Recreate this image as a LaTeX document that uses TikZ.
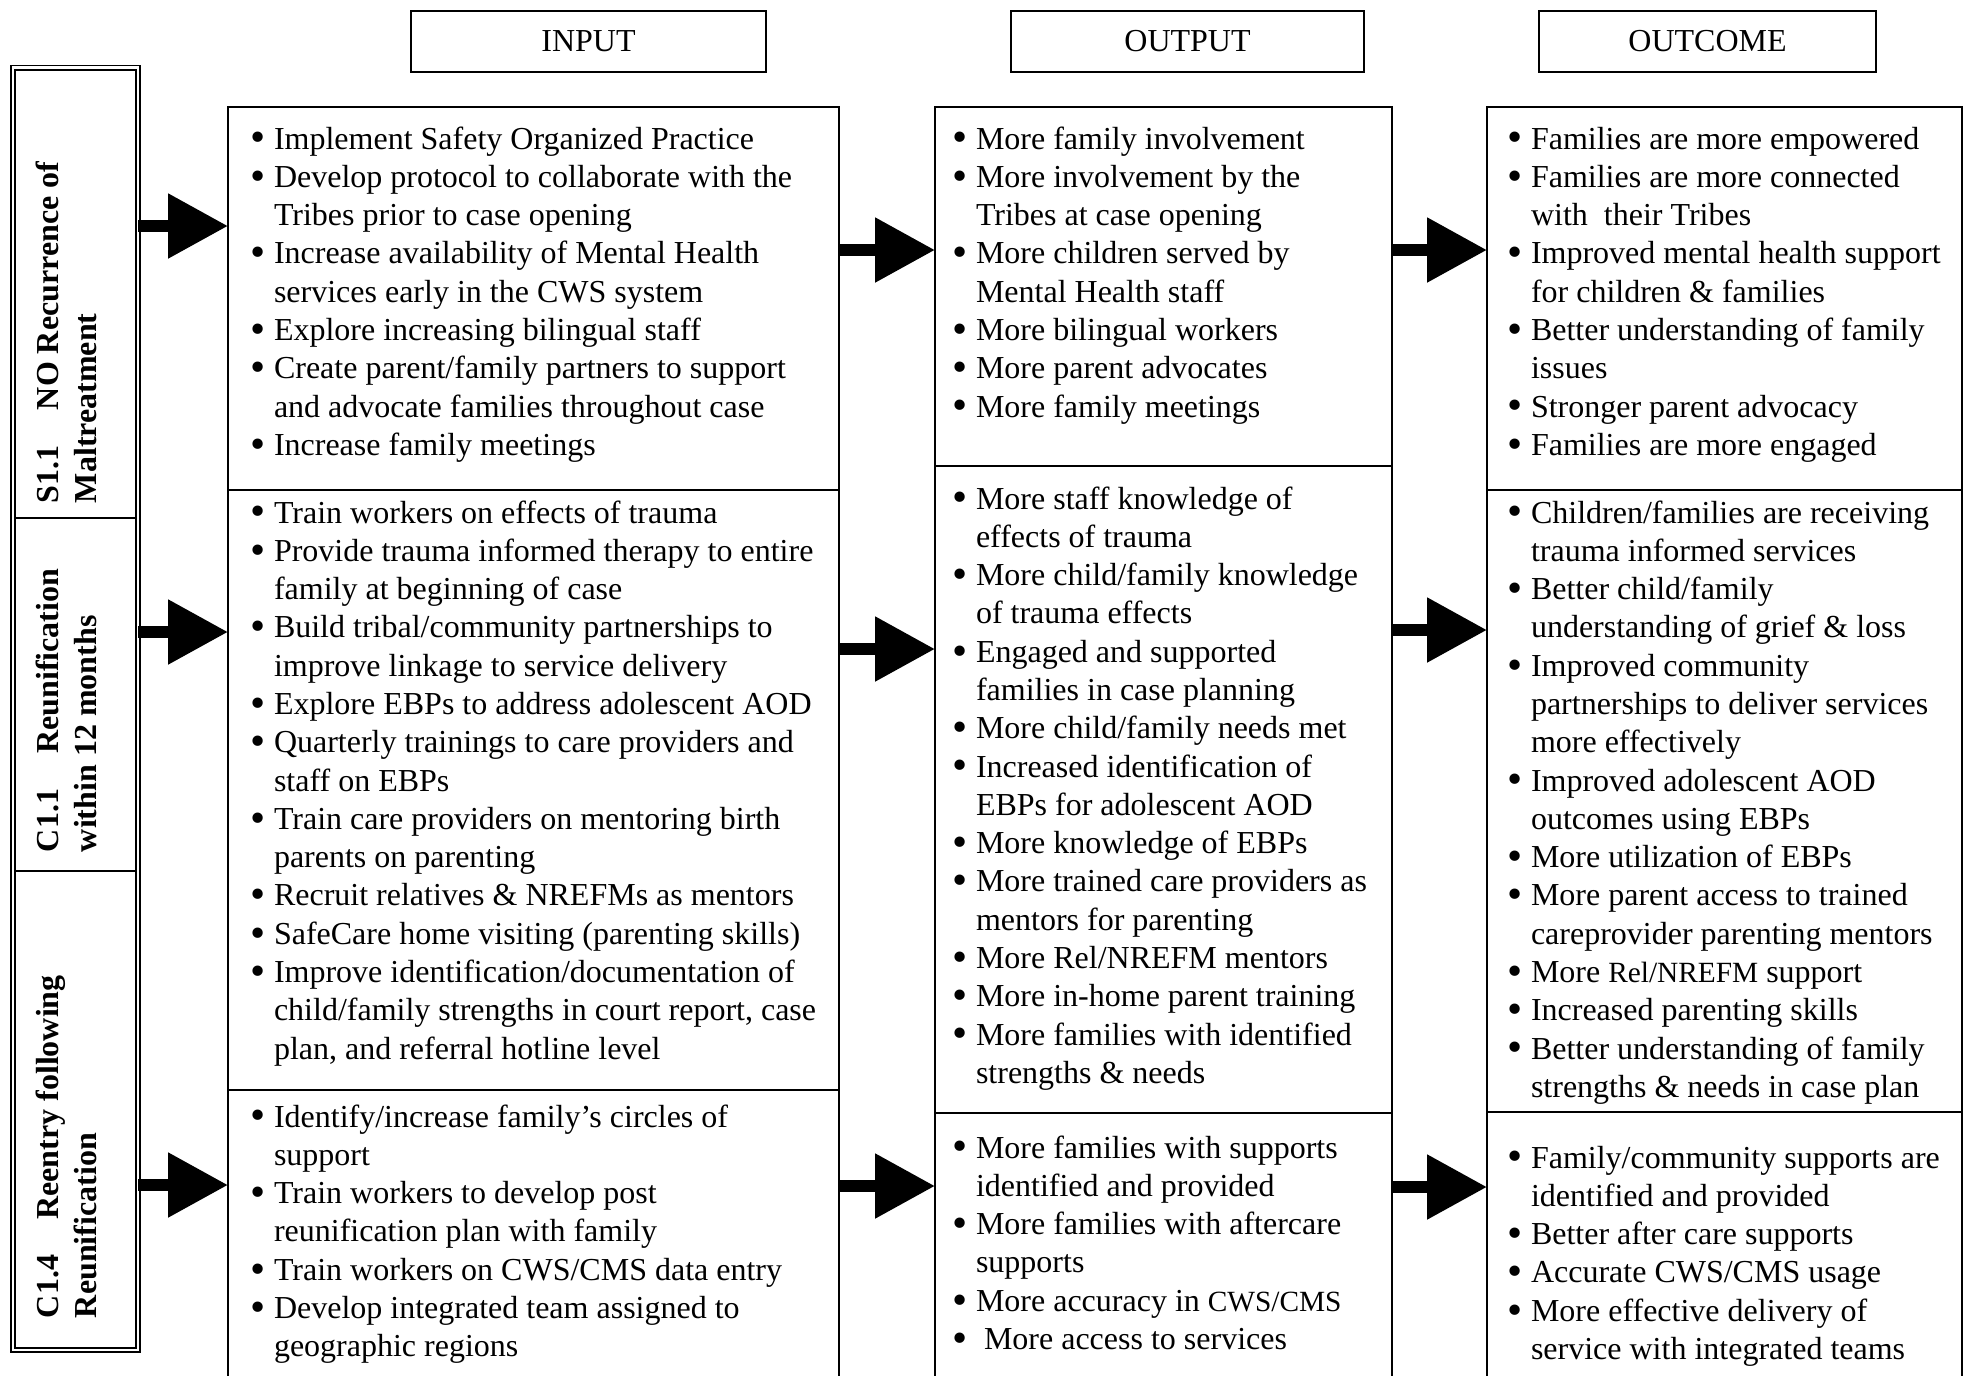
\documentclass[tikz,border=0pt]{standalone}
\usepackage{fontspec}
\usepackage{graphicx}
\setmainfont{Liberation Serif}
\usetikzlibrary{arrows.meta,fit}
\newcommand{\bi}{\makebox[9pt][l]{\raisebox{-0.09em}{\scalebox{1.35}{\textbullet}}}}
\newcommand{\ci}{\hspace*{9pt}}
\newcommand{\lst}[1]{\begin{tabular}[t]{@{}l@{}}#1\end{tabular}}
\newcommand{\smf}[1]{{\fontsize{11}{14.36}\selectfont #1}}
\begin{document}
\begin{tikzpicture}[x=0.375pt,y=-0.375pt,
  every node/.style={inner sep=0pt,outer sep=0pt},
  txt/.style={font=\fontsize{12}{14.36}\selectfont,anchor=base west},
  lab/.style={font=\bfseries\fontsize{12}{14.36}\selectfont,rotate=90,anchor=base west},
  hdr/.style={draw,line width=0.45pt,font=\fontsize{12}{14.36}\selectfont,minimum height=22.9pt},
  cell/.style={draw,line width=0.6pt},
  labcell/.style={draw,line width=0.5pt},
  barrow/.style={line width=4.5pt,-{Triangle[length=22.5pt 0 0,width=23.25pt 0 0]}}]
\useasboundingbox (0,0) rectangle (1967,1375);
% headers
\node[hdr,minimum width=133.1pt] (hin) at (588.5,41.5) {INPUT};
\node[hdr,minimum width=132.4pt] (hout) at (1187.5,41.5) {OUTPUT};
\node[hdr,minimum width=126.4pt] (hoc) at (1707.5,41.5) {OUTCOME};
% label box
\node[fit={(13,67.5) (138,1350)},draw,line width=0.5pt,double,double distance=1pt] (labbox) {};
\node[labcell,fit={(15,70) (136,518)}] (lab1) {};
\node[labcell,fit={(15,518) (136,871)}] (lab2) {};
\node[labcell,fit={(15,871) (136,1348)}] (lab3) {};
\node[lab] (l1) at (58,503) {\lst{S1.1\hspace{1.1em}NO Recurrence of\\Maltreatment}};
\node[lab] (l2) at (58,852) {\lst{C1.1\hspace{1.1em}Reunification\\within 12 months}};
\node[lab] (l3) at (58,1318) {\lst{C1.4\hspace{1.1em}Reentry following\\Reunification}};
% cells
\node[cell,fit={(228,107) (839,490)}] (in1) {};
\node[cell,fit={(228,490) (839,1090)}] (in2) {};
\node[cell,fit={(228,1090) (839,1420)}] (in3) {};
\node[cell,fit={(935,107) (1392,466)}] (out1) {};
\node[cell,fit={(935,466) (1392,1113)}] (out2) {};
\node[cell,fit={(935,1113) (1392,1420)}] (out3) {};
\node[cell,fit={(1487,107) (1962,490)}] (oc1) {};
\node[cell,fit={(1487,490) (1962,1112)}] (oc2) {};
\node[cell,fit={(1487,1112) (1962,1420)}] (oc3) {};
% arrow levels
\coordinate (ya1) at (0,226);
\coordinate (ya2) at (0,632);
\coordinate (ya3) at (0,1185);
\coordinate (yb1) at (0,250);
\coordinate (yb2) at (0,649);
\coordinate (yb3) at (0,1186);
\coordinate (yc1) at (0,250);
\coordinate (yc2) at (0,630);
\coordinate (yc3) at (0,1187);
\draw[barrow] (labbox.east |- ya1) -- (in1.west |- ya1);
\draw[barrow] (labbox.east |- ya2) -- (in2.west |- ya2);
\draw[barrow] (labbox.east |- ya3) -- (in3.west |- ya3);
\draw[barrow] (in1.east |- yb1) -- (out1.west |- yb1);
\draw[barrow] (in2.east |- yb2) -- (out2.west |- yb2);
\draw[barrow] (in3.east |- yb3) -- (out3.west |- yb3);
\draw[barrow] (out1.east |- yc1) -- (oc1.west |- yc1);
\draw[barrow] (out2.east |- yc2) -- (oc2.west |- yc2);
\draw[barrow] (out3.east |- yc3) -- (oc3.west |- yc3);
% INPUT texts
\node[txt] (tin1) at (250,149) {\lst{%
\bi Implement Safety Organized Practice\\
\bi Develop protocol to collaborate with the\\
\ci Tribes prior to case opening\\
\bi Increase availability of Mental Health\\
\ci services early in the CWS system\\
\bi Explore increasing bilingual staff\\
\bi Create parent/family partners to support\\
\ci and advocate families throughout case\\
\bi Increase family meetings}};
\node[txt] (tin2) at (250,523) {\lst{%
\bi Train workers on effects of trauma\\
\bi Provide trauma informed therapy to entire\\
\ci family at beginning of case\\
\bi Build tribal/community partnerships to\\
\ci improve linkage to service delivery\\
\bi Explore EBPs to address adolescent AOD\\
\bi Quarterly trainings to care providers and\\
\ci staff on EBPs\\
\bi Train care providers on mentoring birth\\
\ci parents on parenting\\
\bi Recruit relatives \& NREFMs as mentors\\
\bi SafeCare home visiting (parenting skills)\\
\bi Improve identification/documentation of\\
\ci child/family strengths in court report, case\\
\ci plan, and referral hotline level}};
\node[txt] (tin3) at (250,1127) {\lst{%
\bi Identify/increase family’s circles of\\
\ci support\\
\bi Train workers to develop post\\
\ci reunification plan with family\\
\bi Train workers on CWS/CMS data entry\\
\bi Develop integrated team assigned to\\
\ci geographic regions}};
% OUTPUT texts
\node[txt] (tout1) at (952,149) {\lst{%
\bi More family involvement\\
\bi More involvement by the\\
\ci Tribes at case opening\\
\bi More children served by\\
\ci Mental Health staff\\
\bi More bilingual workers\\
\bi More parent advocates\\
\bi More family meetings}};
\node[txt] (tout2) at (952,509) {\lst{%
\bi More staff knowledge of\\
\ci effects of trauma\\
\bi More child/family knowledge\\
\ci of trauma effects\\
\bi Engaged and supported\\
\ci families in case planning\\
\bi More child/family needs met\\
\bi Increased identification of\\
\ci EBPs for adolescent AOD\\
\bi More knowledge of EBPs\\
\bi More trained care providers as\\
\ci mentors for parenting\\
\bi More Rel/NREFM mentors\\
\bi More in-home parent training\\
\bi More families with identified\\
\ci strengths \& needs}};
\node[txt] (tout3) at (952,1158) {\lst{%
\bi More families with supports\\
\ci identified and provided\\
\bi More families with aftercare\\
\ci supports\\
\bi More accuracy in \smf{CWS/CMS}\\
\bi\hspace{3pt}More access to services}};
% OUTCOME texts
\node[txt] (toc1) at (1507,149) {\lst{%
\bi Families are more empowered\\
\bi Families are more connected\\
\ci with\ \ their Tribes\\
\bi Improved mental health support\\
\ci for children \& families\\
\bi Better understanding of family\\
\ci issues\\
\bi Stronger parent advocacy\\
\bi Families are more engaged}};
\node[txt] (toc2) at (1507,523) {\lst{%
\bi Children/families are receiving\\
\ci trauma informed services\\
\bi Better child/family\\
\ci understanding of grief \& loss\\
\bi Improved community\\
\ci partnerships to deliver services\\
\ci more effectively\\
\bi Improved adolescent AOD\\
\ci outcomes using EBPs\\
\bi More utilization of EBPs\\
\bi More parent access to trained\\
\ci careprovider parenting mentors\\
\bi More \smf{Rel/NREFM} support\\
\bi Increased parenting skills\\
\bi Better understanding of family\\
\ci strengths \& needs in case plan}};
\node[txt] (toc3) at (1507,1168) {\lst{%
\bi Family/community supports are\\
\ci identified and provided\\
\bi Better after care supports\\
\bi Accurate CWS/CMS usage\\
\bi More effective delivery of\\
\ci service with integrated teams}};
\end{tikzpicture}
\end{document}
